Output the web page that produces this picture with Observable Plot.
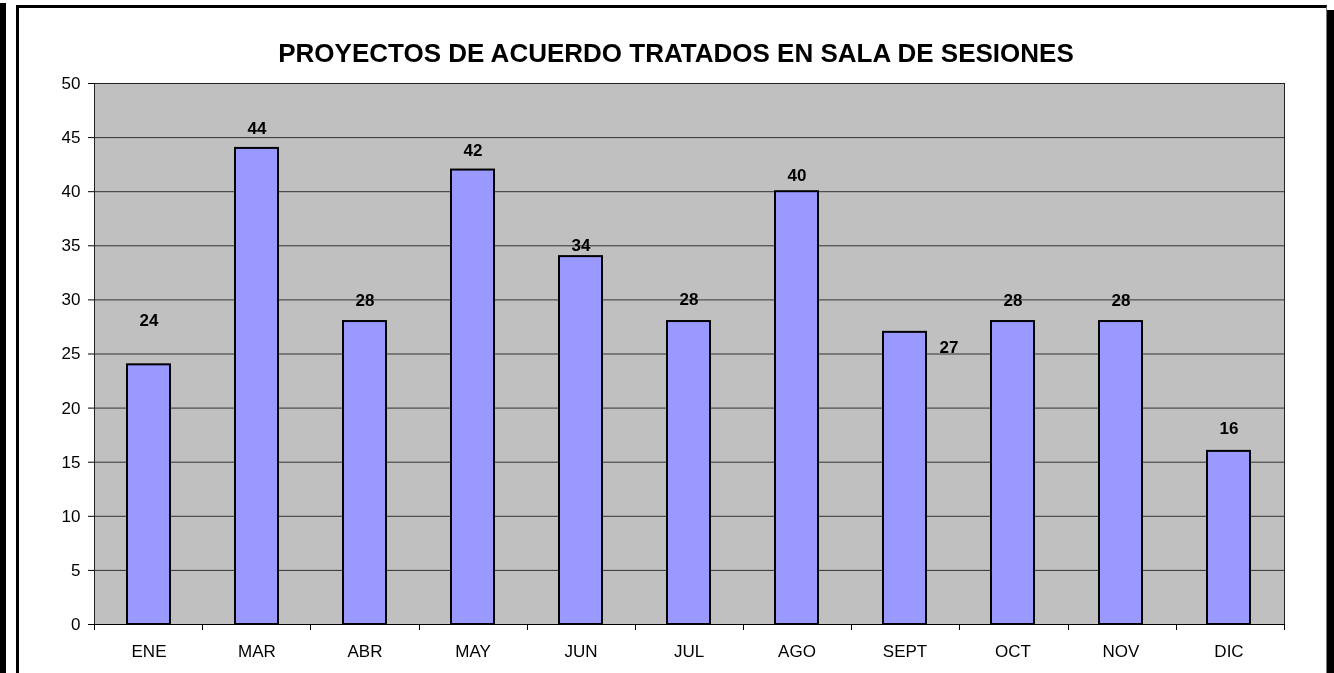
<!DOCTYPE html>
<html>
<head>
<meta charset="utf-8">
<script src="https://cdn.jsdelivr.net/npm/d3@7"></script>
<script src="https://cdn.jsdelivr.net/npm/@observablehq/plot@0.6"></script>
<style>
  html, body { margin: 0; padding: 0; background: #fff; overflow: hidden; }
  body { width: 100vw; height: 100vh; position: relative; font-family: "Liberation Sans", Arial, sans-serif; }
  .edge-left { position: fixed; left: 0; top: 3px; width: 6px; bottom: 0; background: #000; }
  .box { position: fixed; left: 16px; top: 5px; right: 7px; bottom: -20px;
         border-top: 3px solid #000; border-left: 3px solid #000; border-right: 1px solid #777; background: #fff; }
  .shadow { position: fixed; right: 0; top: 10px; width: 7px; bottom: 0; background: #000; }
  .title { position: absolute; left: 0; top: 40px; width: 1352px; text-align: center;
           font-size: 26px; line-height: 26px; font-weight: bold; color: #000; white-space: nowrap; }
  #chart { position: absolute; left: 0; top: 0; }
</style>
</head>
<body>
<div class="edge-left"></div>
<div class="box"></div>
<div class="shadow"></div>
<div id="chart"></div>
<div class="title">PROYECTOS DE ACUERDO TRATADOS EN SALA DE SESIONES</div>
<script>
// ---- data ----
const months = ["ENE", "MAR", "ABR", "MAY", "JUN", "JUL", "AGO", "SEPT", "OCT", "NOV", "DIC"];
const values = [24, 44, 28, 42, 34, 28, 40, 27, 28, 28, 16];
const yTicks = [0, 5, 10, 15, 20, 25, 30, 35, 40, 45, 50];

const data = months.map((m, i) => ({month: m, value: values[i]}));

// label placement (as positioned in the original chart)
const labelOffsets = {
  ENE: {dx: 0, dy: -44}, MAR: {dx: 0, dy: -20}, ABR: {dx: 0, dy: -21}, MAY: {dx: 0, dy: -20},
  JUN: {dx: 0, dy: -11}, JUL: {dx: 0, dy: -22}, AGO: {dx: 0, dy: -16.5}, SEPT: {dx: 44, dy: 15},
  OCT: {dx: 0, dy: -21}, NOV: {dx: 0, dy: -21}, DIC: {dx: 0, dy: -23}
};

const W = 1334, H = 673;
const font = "'Liberation Sans', Arial, sans-serif";

const chart = Plot.plot({
  width: W,
  height: H,
  marginLeft: 94,
  marginRight: 50,
  marginTop: 83,
  marginBottom: 49,
  style: {background: "transparent", fontFamily: font, fontSize: "17px", color: "#000", overflow: "visible"},
  x: {domain: months, paddingInner: 0.6, paddingOuter: 0.3, axis: null, label: null},
  y: {domain: [0, 50], axis: null, label: null},
  marks: [
    Plot.frame({fill: "#C0C0C0", stroke: null}),
    Plot.ruleY(yTicks, {stroke: "#333", strokeWidth: 1}),
    Plot.barY(data, {x: "month", y: "value", fill: "#9999FF", stroke: "#000", strokeWidth: 2}),
    Plot.frame({stroke: "#222", strokeWidth: 1}),
    Plot.ruleY([0], {stroke: "#000"}),
    Plot.axisY({ticks: yTicks, tickSize: 6, tickPadding: 8, fontSize: 17, label: null, stroke: "#000"}),
    Plot.axisX({tickSize: 0, tickPadding: 20, fontSize: 17, label: null}),
    ...data.map(d => Plot.text([d], {
      x: "month", y: "value", text: r => String(r.value),
      dx: labelOffsets[d.month].dx, dy: labelOffsets[d.month].dy,
      fontWeight: "bold", fontSize: 17, fill: "#000"
    }))
  ]
});

document.getElementById("chart").appendChild(chart);

// x-axis tick marks at category boundaries, from the library's x and y scales
const xs = chart.scale("x"), ys = chart.scale("y");
const [r0, r1] = xs.range;
const n = xs.domain.length;
const yBottom = Math.max(...ys.range);
const svg = d3.select(chart);
const g = svg.append("g").attr("stroke", "#000");
for (let i = 0; i <= n; i++) {
  const bx = Math.round(r0 + i * (r1 - r0) / n) + 0.5;
  g.append("line").attr("x1", bx).attr("x2", bx).attr("y1", yBottom).attr("y2", yBottom + 6);
}
</script>
</body>
</html>
